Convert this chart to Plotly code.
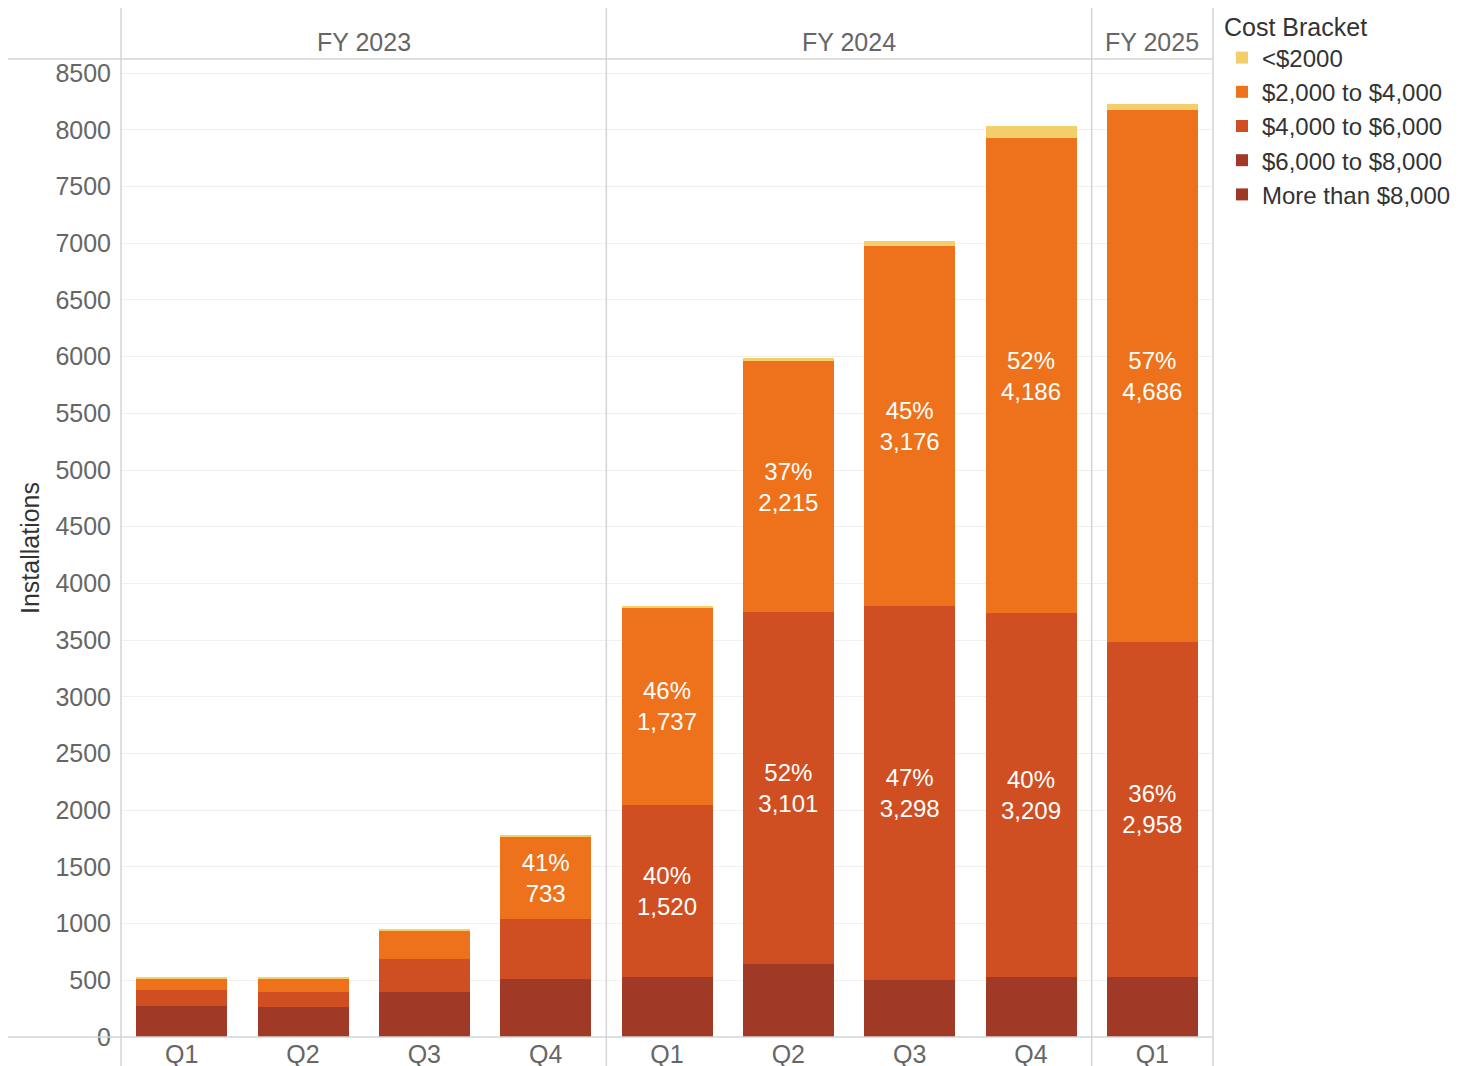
import plotly.graph_objects as go
from plotly.subplots import make_subplots

# fiscal years and quarters shown in each facet
years = ["FY 2023", "FY 2024", "FY 2025"]
quarters = [["Q1", "Q2", "Q3", "Q4"], ["Q1", "Q2", "Q3", "Q4"], ["Q1"]]

# installations per cost bracket, in bar order (FY23 Q1 .. FY25 Q1)
more_8000 = [10, 9, 12, 14, 16, 20, 15, 17, 18]
from_6000 = [266, 256, 388, 497, 512, 624, 488, 512, 511]
from_4000 = [135, 135, 286, 526, 1520, 3101, 3298, 3209, 2958]
from_2000 = [104, 116, 250, 733, 1737, 2215, 3176, 4186, 4686]
under_2000 = [8, 8, 9, 10, 15, 30, 40, 106, 58]

y_ticks = list(range(0, 8501, 500))

series = [
    ("More than $8,000", more_8000, "#9E3925"),
    ("$6,000 to $8,000", from_6000, "#A03A26"),
    ("$4,000 to $6,000", from_4000, "#CF4F22"),
    ("$2,000 to $4,000", from_2000, "#EE721C"),
    ("<$2000", under_2000, "#F2CF6B"),
]
totals = [sum(v) for v in zip(more_8000, from_6000, from_4000, from_2000, under_2000)]
labelled = {"$4,000 to $6,000", "$2,000 to $4,000"}

FONT = "Arial, Liberation Sans, sans-serif"
GREY = "#666666"
LINE = "#d4d4d4"

# page body adds an 8px offset, so the figure is drawn 8px smaller
W, H = 1455, 1058
L, T, PW, PH = 113, 51, 1092, 978

fig = make_subplots(rows=1, cols=3, shared_yaxes=True,
                    column_widths=[4, 4, 1], horizontal_spacing=0)

for name, vals, color in series:
    start = 0
    for col, qs in enumerate(quarters, start=1):
        chunk = vals[start:start + len(qs)]
        tot = totals[start:start + len(qs)]
        start += len(qs)
        text = [
            f"{round(v / t * 100)}%<br>{v:,}" if name in labelled and v >= 700 else ""
            for v, t in zip(chunk, tot)
        ]
        fig.add_trace(
            go.Bar(
                x=qs, y=chunk, name=name, legendgroup=name, showlegend=(col == 1),
                marker=dict(color=color, line=dict(width=0)),
                text=text, textposition="inside", insidetextanchor="middle",
                textangle=0, textfont=dict(color="white", size=24, family=FONT),
                hovertemplate="%{x}<br>" + name + ": %{y:,}<extra></extra>",
            ),
            row=1, col=col,
        )

fig.update_layout(
    width=W, height=H,
    margin=dict(l=L, r=W - L - PW, t=T, b=H - T - PH, autoexpand=False),
    barmode="stack", bargap=0.25,
    plot_bgcolor="white", paper_bgcolor="white",
    font=dict(family=FONT, size=25, color=GREY),
    legend=dict(
        title=dict(text="Cost Bracket", font=dict(color="#333333", size=25)),
        font=dict(color="#333333", size=24),
        traceorder="reversed", tracegroupgap=0,
        x=(1214 - L) / PW, xanchor="left", y=1 + (T + 5) / PH, yanchor="top",
        itemwidth=30,
    ),
)

fig.update_yaxes(range=[0, 8625], tickvals=y_ticks, showgrid=True, gridcolor="#f0f0f0",
                 zeroline=False, showline=False, tickfont=dict(size=25, color=GREY),
                 ticks="outside", ticklen=4, tickcolor="rgba(0,0,0,0)")
fig.update_xaxes(showgrid=False, zeroline=False, showline=False,
                 tickfont=dict(size=25, color=GREY))

# facet headers
for i, year in enumerate(years):
    dom = fig.layout[f"xaxis{'' if i == 0 else i + 1}"].domain
    fig.add_annotation(text=year, x=(dom[0] + dom[1]) / 2, y=1 + 17 / PH, xref="paper",
                       yref="paper", showarrow=False, xanchor="center", yanchor="middle",
                       font=dict(size=25, color=GREY))

fig.add_annotation(text="Installations", textangle=-90, x=(22 - L) / PW, y=0.5,
                   xref="paper", yref="paper", showarrow=False,
                   xanchor="center", yanchor="middle",
                   font=dict(size=25, color="#333333"))

# frame lines: header rule, bottom rule and facet separators
x_left = -L / PW
y_top, y_bot = 1 + T / PH, -(H - T - PH) / PH
shapes = [
    dict(type="line", xref="paper", yref="paper", x0=x_left, x1=1, y0=1, y1=1),
    dict(type="line", xref="paper", yref="paper", x0=x_left, x1=1, y0=0, y1=0),
]
for xp in [0, 4 / 9, 8 / 9, 1]:
    shapes.append(dict(type="line", xref="paper", yref="paper", x0=xp, x1=xp,
                       y0=y_bot, y1=y_top))
for s in shapes:
    s["line"] = dict(color=LINE, width=1.5)
fig.update_layout(shapes=shapes)

fig.write_html("out.html")
